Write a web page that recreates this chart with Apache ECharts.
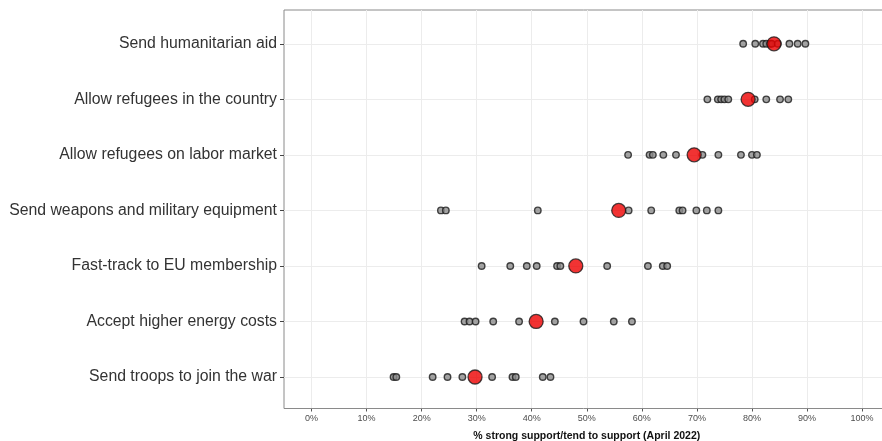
<!DOCTYPE html>
<html>
<head>
<meta charset="utf-8">
<script src="https://cdn.jsdelivr.net/npm/echarts@6/dist/echarts.min.js"></script>
<style>
  html, body { margin: 0; padding: 0; background: #ffffff; }
  #chart { width: 882px; height: 441px; }
</style>
</head>
<body>
<div id="chart"></div>
<script>
// Policy measures, top to bottom
const categories = [
  'Send humanitarian aid',
  'Allow refugees in the country',
  'Allow refugees on labor market',
  'Send weapons and military equipment',
  'Fast-track to EU membership',
  'Accept higher energy costs',
  'Send troops to join the war'
];

// Country-level support (%) for each measure
const humanitarianAid = [78.4, 80.6, 82.0, 82.6, 83.3, 83.6, 84.7, 86.8, 88.3, 89.7];
const refugeesInCountry = [71.9, 73.8, 74.4, 75.0, 75.7, 80.5, 82.6, 85.1, 86.6];
const refugeesLaborMarket = [57.5, 61.4, 62.0, 63.9, 66.2, 71.0, 73.9, 78.0, 80.0, 80.9];
const weapons = [23.5, 24.4, 41.1, 57.6, 61.7, 66.8, 67.4, 69.9, 71.8, 73.9];
const euMembership = [30.9, 36.1, 39.1, 40.9, 44.6, 45.2, 53.7, 61.1, 63.8, 64.6];
const energyCosts = [27.8, 28.7, 29.8, 33.0, 37.7, 44.2, 49.4, 54.9, 58.2];
const troops = [14.9, 15.4, 22.0, 24.7, 27.4, 32.8, 36.5, 37.1, 42.0, 43.4];

// Average support for each measure
const averages = [84.0, 79.3, 69.5, 55.8, 48.0, 40.8, 29.7];

// Percent tick labels along the x axis
const xTicks = [0, 10, 20, 30, 40, 50, 60, 70, 80, 90, 100];

const countryValues = [
  humanitarianAid, refugeesInCountry, refugeesLaborMarket,
  weapons, euMembership, energyCosts, troops
];

const countryPoints = [];
countryValues.forEach((vals, i) => {
  vals.forEach(v => countryPoints.push([v, categories[i]]));
});
const averagePoints = averages.map((v, i) => [v, categories[i]]);

// x range padded 5% on both sides of 0-100; the panel runs past the right edge
const X_MIN = -5, X_MAX = 105;
const FONT = '"Liberation Sans", Arial, Helvetica, sans-serif';
const PANEL_LEFT = 284, PANEL_WIDTH = 605.6;

const chart = echarts.init(document.getElementById('chart'), null, { renderer: 'canvas' });

chart.setOption({
  animation: false,
  backgroundColor: '#ffffff',
  grid: [
    // data area: row centres at the first and last category
    { left: PANEL_LEFT, width: PANEL_WIDTH, top: 43.8, bottom: 64,
      outerBoundsMode: 'none', containLabel: false },
    // panel frame with the x scale
    { left: PANEL_LEFT, width: PANEL_WIDTH, top: 10, bottom: 32.5, show: true,
      outerBoundsMode: 'none',
      borderColor: '#8a8a8a', borderWidth: 1, backgroundColor: 'transparent' }
  ],
  xAxis: [
    {
      gridIndex: 0, type: 'value', min: X_MIN, max: X_MAX, show: false
    },
    {
      gridIndex: 1, type: 'value', min: X_MIN, max: X_MAX,
      axisLine: { show: false },
      axisTick: { show: true, length: 3, customValues: xTicks, lineStyle: { color: '#555555' } },
      axisLabel: {
        show: true, fontFamily: FONT, fontSize: 9, color: '#4d4d4d', margin: 6,
        customValues: xTicks,
        formatter: v => v + '%'
      },
      splitLine: { show: true, lineStyle: { color: '#ececec', width: 1 } },
      name: '% strong support/tend to support (April 2022)',
      nameLocation: 'middle',
      nameGap: 22,
      nameTextStyle: { fontFamily: FONT, fontSize: 10.5, fontWeight: 'bold', color: '#111111' }
    }
  ],
  yAxis: [
    {
      gridIndex: 0, type: 'category', data: categories, inverse: true, boundaryGap: false,
      axisLine: { show: false, onZero: false },
      axisTick: { show: true, length: 4, lineStyle: { color: '#444444' } },
      axisLabel: { fontFamily: FONT, fontSize: 15.8, color: '#333333', margin: 7 },
      splitLine: { show: true, lineStyle: { color: '#ececec', width: 1 } }
    },
    {
      gridIndex: 1, type: 'value', min: 0, max: 1, show: false
    }
  ],
  series: [
    {
      name: 'Countries', type: 'scatter', xAxisIndex: 0, yAxisIndex: 0,
      data: countryPoints,
      symbol: 'circle', symbolSize: 6.5,
      itemStyle: { color: '#8c8c8c', borderColor: '#1a1a1a', borderWidth: 1.4 },
      z: 3
    },
    {
      name: 'Average', type: 'scatter', xAxisIndex: 0, yAxisIndex: 0,
      data: averagePoints,
      symbol: 'circle', symbolSize: 14,
      itemStyle: { color: '#ee0000', borderColor: '#1a1a1a', borderWidth: 1.3 },
      z: 4
    },
    // keeps the x scale of the frame populated
    {
      type: 'scatter', xAxisIndex: 1, yAxisIndex: 1, data: [], silent: true
    }
  ]
});
</script>
</body>
</html>
